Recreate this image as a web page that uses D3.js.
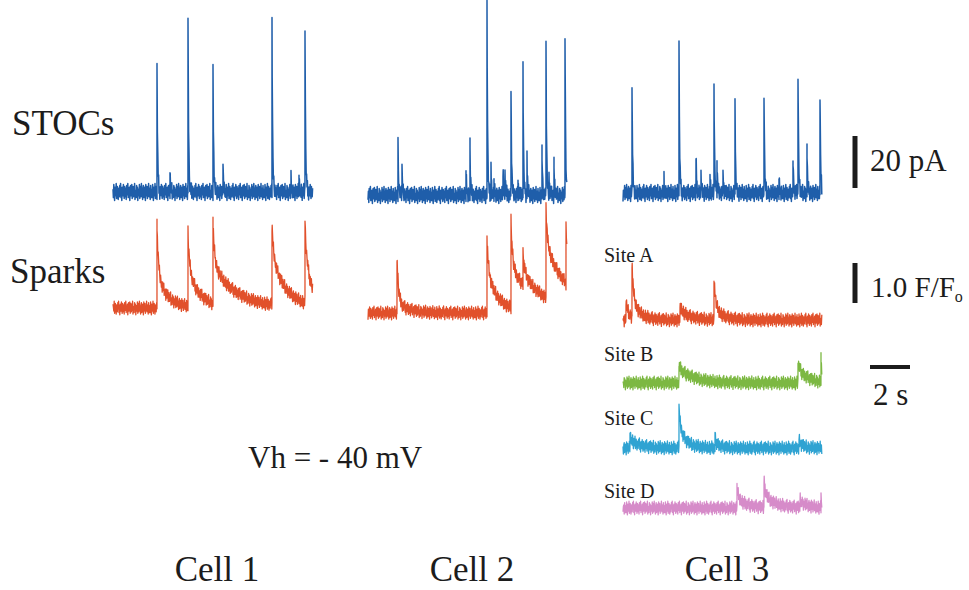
<!DOCTYPE html>
<html>
<head>
<meta charset="utf-8">
<script src="https://cdn.jsdelivr.net/npm/d3@7"></script>
<style>
  html, body { margin: 0; background: #fff; overflow: hidden; }
  svg { display: block; }
  text { font-family: "Liberation Serif", "Times New Roman", serif; fill: #1c1c1c; }
</style>
</head>
<body>
<div id="chart"></div>
<script>
const cells = ["Cell 1", "Cell 2", "Cell 3"];
const siteNames = ["Site A", "Site B", "Site C", "Site D"];

// STOC events: [time (s), amplitude (pA)]
const stocCell1 = [[2.2, 48], [2.85, 7], [3.75, 69], [5.0, 48], [5.5, 10], [7.95, 66], [8.9, 5], [9.3, 5], [9.6, 63]];
const stocCell2 = [[1.5, 20], [1.7, 10], [4.9, 9], [5.1, 19], [5.95, 72], [6.15, 10], [6.3, 4], [6.75, 10], [6.85, 10],
  [7.15, 42], [7.5, 5], [7.75, 48], [7.95, 14], [8.7, 16], [8.9, 58], [9.05, 8], [9.3, 12], [9.85, 63]];
const stocCell3 = [[0.45, 43], [2.05, 5], [2.8, 57], [3.65, 15], [3.9, 8], [4.35, 6], [4.55, 43], [4.7, 11], [5.0, 8],
  [5.6, 33], [7.05, 39], [7.8, 5], [8.5, 13], [8.75, 47], [9.2, 16], [9.85, 39]];

// Spark events: [time (s), peak (F/F0), tail (F/F0), tail decay (s)]
const sparkCell1 = [[2.2, 2.05, 0.8, 0.55], [3.75, 1.85, 0.9, 0.6], [5.0, 2.0, 1.0, 1.2], [7.95, 2.0, 1.2, 0.7], [9.6, 2.0, 1.2, 0.35]];
const sparkCell2 = [[1.45, 1.4, 0.25, 0.6], [5.95, 1.85, 1.0, 0.6], [7.15, 2.2, 1.0, 1.5], [7.75, 0.8, 0.3, 0.8], [8.9, 2.2, 1.3, 1.2], [9.9, 1.4, 0.6, 0.5]];
const sparkSiteA = [[0.15, 0.5, 0.2, 0.3], [0.45, 1.3, 0.45, 0.4], [2.85, 0.4, 0.25, 0.5], [4.55, 1.0, 0.35, 0.4]];
const sparkSiteB = [[2.8, 0.45, 0.35, 0.8], [8.75, 0.55, 0.35, 0.5], [9.9, 0.55, 0.0, 0.2]];
const sparkSiteC = [[0.35, 0.3, 0.2, 0.5], [2.8, 1.0, 0.45, 0.4], [4.6, 0.25, 0.1, 0.3], [8.8, 0.2, 0.1, 0.3]];
const sparkSiteD = [[5.7, 0.5, 0.25, 0.5], [7.05, 0.7, 0.3, 0.6], [8.85, 0.2, 0.15, 0.4], [9.9, 0.25, 0.0, 0.2]];

// recording noise texture (hand typed, cycled along each trace)
const noisePattern = [0.3, -0.6, 0.8, -0.2, -0.9, 0.5, 0.1, -0.4, 0.9, -0.7, 0.2, 0.6, -0.3, -0.8, 0.4, 0.0, -0.5, 0.7, -0.1, 0.9,
  -0.6, 0.3, -0.9, 0.5, 0.2, -0.4, 0.8, -0.2, -0.7, 0.6, 0.1, -0.5, 0.4, -0.8, 0.7, -0.3, 0.0, 0.9, -0.6, 0.2,
  -0.1, 0.5, -0.9, 0.3, 0.7, -0.4, -0.2, 0.8, -0.7, 0.1, 0.6, -0.5, 0.4, -0.3, 0.9, -0.8, 0.2, 0.0, -0.6, 0.7,
  -0.2, 0.5, -0.9, 0.3, 0.1, -0.4, 0.8, -0.7, 0.6, -0.1, -0.5, 0.9, -0.3, 0.2, -0.8, 0.4, 0.7, -0.6, 0.0, 0.5,
  -0.2, -0.9, 0.8, -0.4, 0.3, 0.6, -0.7, 0.1, -0.3, 0.9, -0.5, 0.2, 0.4, -0.8, 0.7, -0.1, -0.6];

const width = 969, height = 590;

const svg = d3.select("#chart")
  .append("svg")
  .attr("width", width)
  .attr("height", height);

const cellX = [113, 368, 623];
const tEnd = [10.0, 9.95, 9.95];
const x = cellX.map(x0 => d3.scaleLinear().domain([0, 10]).range([x0, x0 + 200]));

// 20 pA -> 52 px, 1.0 F/F0 -> 40 px
const stocScale = base => d3.scaleLinear().domain([0, 20]).range([base, base - 52]);
const sparkScale = base => d3.scaleLinear().domain([0, 1]).range([base, base - 40]);

function buildTrace(events, kind, noiseAmp, offset, end) {
  const ts = d3.range(0, end, 0.02);
  events.forEach(e => { if (e[0] < end) ts.push(e[0] - 0.001, e[0]); });
  ts.sort((a, b) => a - b);
  return ts.map((t, i) => {
    let v = 0;
    for (const e of events) {
      const dt = t - e[0];
      if (dt < 0) continue;
      if (kind === "stoc") v += e[1] * Math.exp(-dt / 0.03);
      else v += (e[1] - e[2]) * Math.exp(-dt / 0.08) + e[2] * Math.exp(-dt / e[3]);
    }
    const n = noisePattern[(i + offset) % noisePattern.length];
    return [t, v + n * noiseAmp];
  });
}

const stocTraces = [
  { cell: 0, base: 192, events: stocCell1 },
  { cell: 1, base: 195, events: stocCell2 },
  { cell: 2, base: 193, events: stocCell3 }
];

const sparkTraces = [
  { cell: 0, base: 308, events: sparkCell1, color: "#e1502b" },
  { cell: 1, base: 313, events: sparkCell2, color: "#e1502b" },
  { cell: 2, base: 320, events: sparkSiteA, color: "#e1502b" },
  { cell: 2, base: 383, events: sparkSiteB, color: "#7cb842" },
  { cell: 2, base: 448, events: sparkSiteC, color: "#2fa3d2" },
  { cell: 2, base: 508, events: sparkSiteD, color: "#d68bc9" }
];

const traces = svg.append("g").attr("fill", "none").attr("stroke-linejoin", "round");

stocTraces.forEach((tr, k) => {
  const y = stocScale(tr.base);
  const line = d3.line().x(d => x[tr.cell](d[0])).y(d => y(d[1]));
  traces.append("path")
    .datum(buildTrace(tr.events, "stoc", 3.6, k * 31, tEnd[tr.cell]))
    .attr("d", line)
    .attr("stroke", "#1f5eaa")
    .attr("stroke-width", 1.5);
});

sparkTraces.forEach((tr, k) => {
  const y = sparkScale(tr.base);
  const line = d3.line().x(d => x[tr.cell](d[0])).y(d => y(d[1]));
  traces.append("path")
    .datum(buildTrace(tr.events, "spark", 0.19, k * 17 + 5, tEnd[tr.cell]))
    .attr("d", line)
    .attr("stroke", tr.color)
    .attr("stroke-width", 1.3);
});

// row labels
svg.append("text").attr("x", 12).attr("y", 135).attr("font-size", 35).text("STOCs");
svg.append("text").attr("x", 10).attr("y", 283).attr("font-size", 35).text("Sparks");
svg.append("text").attr("x", 248).attr("y", 468).attr("font-size", 31).text("Vh = - 40 mV");

// cell labels
svg.append("g").selectAll("text")
  .data(cells)
  .join("text")
  .attr("x", (d, i) => x[i](5.2))
  .attr("y", 581)
  .attr("text-anchor", "middle")
  .attr("font-size", 35)
  .text(d => d);

// site labels
const siteBase = [262, 361, 425, 498];
svg.append("g").selectAll("text")
  .data(siteNames)
  .join("text")
  .attr("x", 604)
  .attr("y", (d, i) => siteBase[i])
  .attr("font-size", 20)
  .text(d => d);

// scale bars
const bars = svg.append("g").attr("stroke", "#1c1c1c").attr("stroke-width", 5);
const sy = stocScale(188);
bars.append("line").attr("x1", 855).attr("x2", 855).attr("y1", sy(0)).attr("y2", sy(20));
const fy = sparkScale(303);
bars.append("line").attr("x1", 855).attr("x2", 855).attr("y1", fy(0)).attr("y2", fy(1));
const tx = d3.scaleLinear().domain([0, 10]).range([870, 1070]);
bars.append("line").attr("x1", tx(0)).attr("x2", tx(2)).attr("y1", 367).attr("y2", 367).attr("stroke-width", 4);

svg.append("text").attr("x", 870).attr("y", 171).attr("font-size", 31).text("20 pA");
const ff = svg.append("text").attr("x", 871).attr("y", 297).attr("font-size", 29);
ff.append("tspan").text("1.0 F/F");
ff.append("tspan").attr("font-size", 16).attr("dy", 5).text("o");
svg.append("text").attr("x", 873).attr("y", 405).attr("font-size", 31).text("2 s");
</script>
</body>
</html>
